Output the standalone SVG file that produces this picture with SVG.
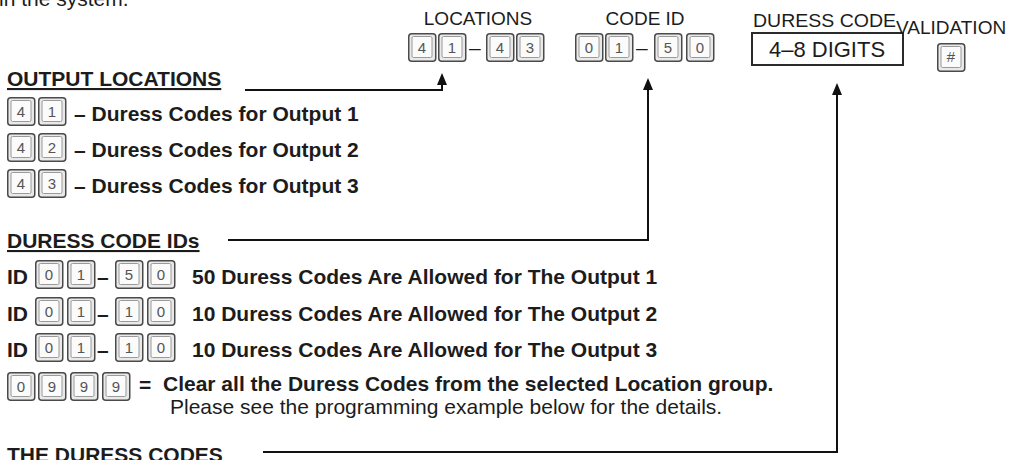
<svg xmlns="http://www.w3.org/2000/svg" xmlns:xlink="http://www.w3.org/1999/xlink" width="1009" height="460" viewBox="0 0 1009 460">
<style>
.t{font-family:"Liberation Sans",Arial,Helvetica,sans-serif;fill:#1c1c1c}
.h{font-weight:bold;font-size:21px}
.u{text-decoration:underline}
.r{font-size:21px}
.lab{font-size:19px}
.kd{font-family:"Liberation Sans",Arial,sans-serif;font-size:15px;fill:#555;text-anchor:middle}
.conn{fill:none;stroke:#111;stroke-width:2}
</style>
<defs>
<g id="cap">
<rect x="0.75" y="0.75" width="27" height="27.5" rx="3" fill="#e9e9e9" stroke="#4a4a4a" stroke-width="1.5"/>
<rect x="4" y="3.5" width="20" height="21" rx="1.5" fill="#fbfbfb" stroke="#9a9a9a" stroke-width="1"/>
</g>
<marker id="ah" viewBox="0 0 12 10" refX="10" refY="5" markerWidth="12" markerHeight="10" markerUnits="userSpaceOnUse" orient="auto">
<path d="M0,0 L12,5 L0,10 Z" fill="#111"/>
</marker>
</defs>
<rect width="1009" height="460" fill="#ffffff"/>

<text class="t r" x="-1" y="6">in the system.</text>

<g id="locations">
<text class="t lab" x="478" y="25" text-anchor="middle">LOCATIONS</text>
<g transform="translate(408,33)"><use xlink:href="#cap"/><text class="kd" x="14" y="20">4</text></g>
<g transform="translate(438,33)"><use xlink:href="#cap"/><text class="kd" x="14" y="20">1</text></g>
<text class="t r" x="469" y="55">–</text>
<g transform="translate(486,33)"><use xlink:href="#cap"/><text class="kd" x="14" y="20">4</text></g>
<g transform="translate(516,33)"><use xlink:href="#cap"/><text class="kd" x="14" y="20">3</text></g>
</g>

<g id="code-id">
<text class="t lab" x="645" y="25" text-anchor="middle">CODE ID</text>
<g transform="translate(575,33)"><use xlink:href="#cap"/><text class="kd" x="14" y="20">0</text></g>
<g transform="translate(605,33)"><use xlink:href="#cap"/><text class="kd" x="14" y="20">1</text></g>
<text class="t r" x="636" y="55">–</text>
<g transform="translate(654,33)"><use xlink:href="#cap"/><text class="kd" x="14" y="20">5</text></g>
<g transform="translate(686,33)"><use xlink:href="#cap"/><text class="kd" x="14" y="20">0</text></g>
</g>

<g id="duress-code">
<text class="t lab" x="753" y="27" textLength="143" lengthAdjust="spacingAndGlyphs">DURESS CODE</text>
<rect x="752" y="33" width="151" height="32" fill="#fff" stroke="#2a2a2a" stroke-width="2"/>
<text class="t" x="827" y="57" font-size="22" text-anchor="middle">4–8 DIGITS</text>
</g>

<g id="validation">
<text class="t lab" x="896" y="34">VALIDATION</text>
<g transform="translate(937,43)"><use xlink:href="#cap"/><text class="kd" x="14" y="19" font-size="12">#</text></g>
</g>

<g id="output-locations">
<text class="t h u" x="7" y="86">OUTPUT LOCATIONS</text>
<g transform="translate(7,97)"><use xlink:href="#cap"/><text class="kd" x="14" y="20">4</text></g>
<g transform="translate(38,97)"><use xlink:href="#cap"/><text class="kd" x="14" y="20">1</text></g>
<text class="t h" x="74" y="121">– Duress Codes for Output 1</text>
<g transform="translate(7,133)"><use xlink:href="#cap"/><text class="kd" x="14" y="20">4</text></g>
<g transform="translate(38,133)"><use xlink:href="#cap"/><text class="kd" x="14" y="20">2</text></g>
<text class="t h" x="74" y="157">– Duress Codes for Output 2</text>
<g transform="translate(7,169)"><use xlink:href="#cap"/><text class="kd" x="14" y="20">4</text></g>
<g transform="translate(38,169)"><use xlink:href="#cap"/><text class="kd" x="14" y="20">3</text></g>
<text class="t h" x="74" y="193">– Duress Codes for Output 3</text>
</g>

<g id="duress-code-ids">
<text class="t h u" x="7" y="248">DURESS CODE IDs</text>
<text class="t h" x="7" y="284">ID</text>
<g transform="translate(35,260)"><use xlink:href="#cap"/><text class="kd" x="14" y="20">0</text></g>
<g transform="translate(67,260)"><use xlink:href="#cap"/><text class="kd" x="14" y="20">1</text></g>
<text class="t h" x="97" y="284">–</text>
<g transform="translate(115,260)"><use xlink:href="#cap"/><text class="kd" x="14" y="20">5</text></g>
<g transform="translate(147,260)"><use xlink:href="#cap"/><text class="kd" x="14" y="20">0</text></g>
<text class="t h" x="192" y="284">50 Duress Codes Are Allowed for The Output 1</text>
<text class="t h" x="7" y="321">ID</text>
<g transform="translate(35,297)"><use xlink:href="#cap"/><text class="kd" x="14" y="20">0</text></g>
<g transform="translate(67,297)"><use xlink:href="#cap"/><text class="kd" x="14" y="20">1</text></g>
<text class="t h" x="97" y="321">–</text>
<g transform="translate(115,297)"><use xlink:href="#cap"/><text class="kd" x="14" y="20">1</text></g>
<g transform="translate(147,297)"><use xlink:href="#cap"/><text class="kd" x="14" y="20">0</text></g>
<text class="t h" x="192" y="321">10 Duress Codes Are Allowed for The Output 2</text>
<text class="t h" x="7" y="357">ID</text>
<g transform="translate(35,333)"><use xlink:href="#cap"/><text class="kd" x="14" y="20">0</text></g>
<g transform="translate(67,333)"><use xlink:href="#cap"/><text class="kd" x="14" y="20">1</text></g>
<text class="t h" x="97" y="357">–</text>
<g transform="translate(115,333)"><use xlink:href="#cap"/><text class="kd" x="14" y="20">1</text></g>
<g transform="translate(147,333)"><use xlink:href="#cap"/><text class="kd" x="14" y="20">0</text></g>
<text class="t h" x="192" y="357">10 Duress Codes Are Allowed for The Output 3</text>
</g>

<g id="clear-codes">
<g transform="translate(7,372)"><use xlink:href="#cap"/><text class="kd" x="14" y="20">0</text></g>
<g transform="translate(38,372)"><use xlink:href="#cap"/><text class="kd" x="14" y="20">9</text></g>
<g transform="translate(70,372)"><use xlink:href="#cap"/><text class="kd" x="14" y="20">9</text></g>
<g transform="translate(102,372)"><use xlink:href="#cap"/><text class="kd" x="14" y="20">9</text></g>
<text class="t h" x="139" y="392">=</text>
<text class="t h" x="163" y="391">Clear all the Duress Codes from the selected Location group.</text>
<text class="t r" x="170" y="414">Please see the programming example below for the details.</text>
</g>

<g id="the-duress-codes">
<text class="t h" x="7" y="462">THE DURESS CODES</text>
</g>

<g id="connectors">
<polyline class="conn" points="245,90 442,90 442,75" marker-end="url(#ah)"/>
<polyline class="conn" points="228,240 648,240 648,80" marker-end="url(#ah)"/>
<polyline class="conn" points="263,452 837,452 837,85" marker-end="url(#ah)"/>
</g>
</svg>
